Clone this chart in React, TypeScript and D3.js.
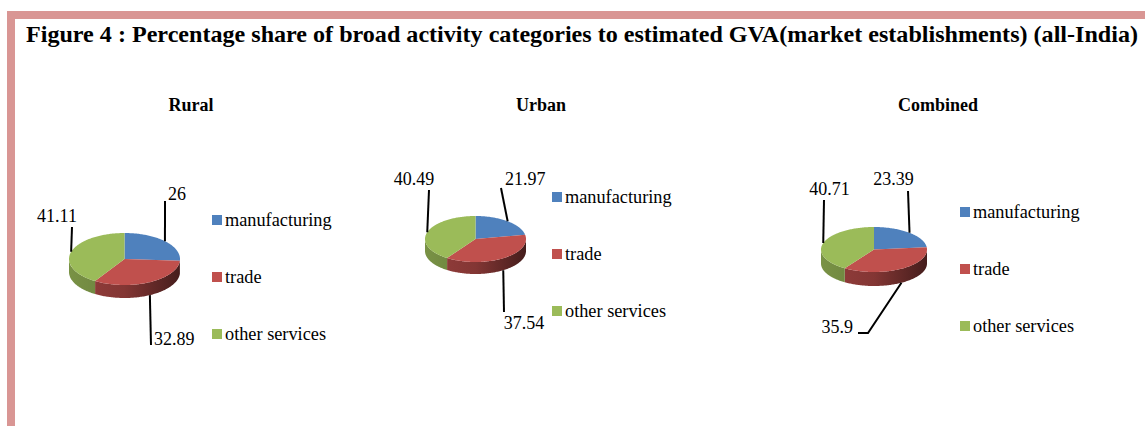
import React from "react";
import * as d3 from "d3";

const categories = ["manufacturing", "trade", "other services"];
const chartTitles = ["Rural", "Urban", "Combined"];
const ruralValues = [26, 32.89, 41.11];
const urbanValues = [21.97, 37.54, 40.49];
const combinedValues = [23.39, 35.9, 40.71];
const valueLabels = [
  ["26", "32.89", "41.11"],
  ["21.97", "37.54", "40.49"],
  ["23.39", "35.9", "40.71"],
];
const figureTitle =
  "Figure 4 : Percentage share of broad activity categories to estimated GVA(market establishments) (all-India)";

const colors = ["#4F81BD", "#C0504D", "#9BBB59"];

type Pt = [number, number];
interface LabelLayout {
  path: Pt[]; // leader points after the anchor
  text: Pt;
  anchor: "start" | "middle" | "end";
}
interface ChartLayout {
  cx: number;
  cy: number;
  rx: number;
  ry: number;
  depth: number;
  titleX: number;
  legendX: number;
  legendY: number;
  labels: LabelLayout[];
}

const layouts: ChartLayout[] = [
  {
    cx: 124.5, cy: 259, rx: 55.5, ry: 26, depth: 13,
    titleX: 191, legendX: 212, legendY: 215,
    labels: [
      { path: [[165, 201]], text: [168, 200], anchor: "start" },
      { path: [[151, 345]], text: [154, 345], anchor: "start" },
      { path: [[72, 227]], text: [57, 222], anchor: "middle" },
    ],
  },
  {
    cx: 475.5, cy: 239, rx: 50.5, ry: 23, depth: 12,
    titleX: 541, legendX: 552, legendY: 192,
    labels: [
      { path: [[501, 188]], text: [505, 185], anchor: "start" },
      { path: [[504, 312]], text: [524, 329], anchor: "middle" },
      { path: [[429, 190]], text: [414, 185], anchor: "middle" },
    ],
  },
  {
    cx: 874, cy: 249.5, rx: 53, ry: 22.5, depth: 14,
    titleX: 938, legendX: 960, legendY: 207,
    labels: [
      { path: [[908, 191]], text: [893.5, 185], anchor: "middle" },
      { path: [[868, 333], [858, 333]], text: [853, 333], anchor: "end" },
      { path: [[824, 200]], text: [829.5, 195], anchor: "middle" },
    ],
  },
];

const allValues = [ruralValues, urbanValues, combinedValues];
const FONT = "'Liberation Serif', 'Times New Roman', serif";

function shade(c: string, k: number) {
  const col = d3.rgb(c);
  return d3.rgb(col.r * k, col.g * k, col.b * k).formatHex();
}

function Pie3D({ values, lay, idx }: { values: number[]; lay: ChartLayout; idx: number }) {
  const { cx, cy, rx, ry, depth } = lay;
  const arcs = d3.pie<number>().sort(null).value((d) => d)(values);
  const pt = (a: number, dy = 0): Pt => [cx + rx * Math.sin(a), cy - ry * Math.cos(a) + dy];
  const line = d3.line();
  const sample = (a0: number, a1: number, dy = 0) => {
    const n = Math.max(2, Math.ceil(Math.abs(a1 - a0) / 0.02));
    return d3.range(n + 1).map((i) => pt(a0 + ((a1 - a0) * i) / n, dy));
  };

  const tops = arcs.map((a) => {
    const pts: Pt[] = [[cx, cy], ...sample(a.startAngle, a.endAngle)];
    return line(pts) + "Z";
  });
  const sides = arcs.map((a) => {
    const s = Math.max(a.startAngle, Math.PI / 2);
    const e = Math.min(a.endAngle, (3 * Math.PI) / 2);
    if (e <= s) return null;
    const pts: Pt[] = [...sample(s, e), ...sample(e, s, depth)];
    return line(pts) + "Z";
  });

  return (
    <g>
      <defs>
        {colors.map((c, i) => (
          <linearGradient
            key={i}
            id={`side-${idx}-${i}`}
            gradientUnits="userSpaceOnUse"
            x1={cx - rx}
            x2={cx + rx}
            y1={0}
            y2={0}
          >
            <stop offset="0" stopColor={shade(c, 0.78)} />
            <stop offset="0.5" stopColor={shade(c, 0.68)} />
            <stop offset="1" stopColor={shade(c, 0.36)} />
          </linearGradient>
        ))}
      </defs>
      {sides.map((d, i) => (d ? <path key={"s" + i} d={d} fill={`url(#side-${idx}-${i})`} /> : null))}
      {tops.map((d, i) => (
        <path key={"t" + i} d={d} fill={colors[i]} />
      ))}
      {arcs.map((a, i) => {
        const mid = (a.startAngle + a.endAngle) / 2;
        const front = Math.cos(mid) < 0;
        const anchor = pt(mid, front ? depth : 0);
        const L = lay.labels[i];
        return (
          <g key={"l" + i}>
            <path
              d={line([anchor, ...L.path]) || ""}
              fill="none"
              stroke="#000"
              strokeWidth={2}
            />
            <text
              x={L.text[0]}
              y={L.text[1]}
              textAnchor={L.anchor}
              fontFamily={FONT}
              fontSize={18}
              fill="#000"
            >
              {valueLabels[idx][i]}
            </text>
          </g>
        );
      })}
      <text
        x={lay.titleX}
        y={111}
        textAnchor="middle"
        fontFamily={FONT}
        fontWeight="bold"
        fontSize={18}
      >
        {chartTitles[idx]}
      </text>
      {categories.map((c, i) => (
        <g key={"lg" + i}>
          <rect x={lay.legendX} y={lay.legendY + i * 57} width={10} height={10} fill={colors[i]} />
          <text
            x={lay.legendX + 13}
            y={lay.legendY + i * 57 + 11}
            fontFamily={FONT}
            fontSize={18.3}
            fill="#000"
          >
            {c}
          </text>
        </g>
      ))}
    </g>
  );
}

export default function App() {
  const W = 1145;
  const H = 426;
  const border = "#D99694";
  return (
    <svg
      width={W}
      height={H}
      style={{ position: "absolute", left: 0, top: 0, background: "#fff" }}
    >
      <rect x={0} y={0} width={W} height={H} fill="#fff" />
      <rect x={7} y={11} width={W - 7} height={8} fill={border} />
      <rect x={7} y={11} width={8} height={H - 11} fill={border} />
      <text
        x={26}
        y={42}
        fontFamily={FONT}
        fontWeight="bold"
        fontSize={23}
        textLength={1112}
        lengthAdjust="spacingAndGlyphs"
      >
        {figureTitle}
      </text>
      {layouts.map((lay, i) => (
        <Pie3D key={i} values={allValues[i]} lay={lay} idx={i} />
      ))}
    </svg>
  );
}
